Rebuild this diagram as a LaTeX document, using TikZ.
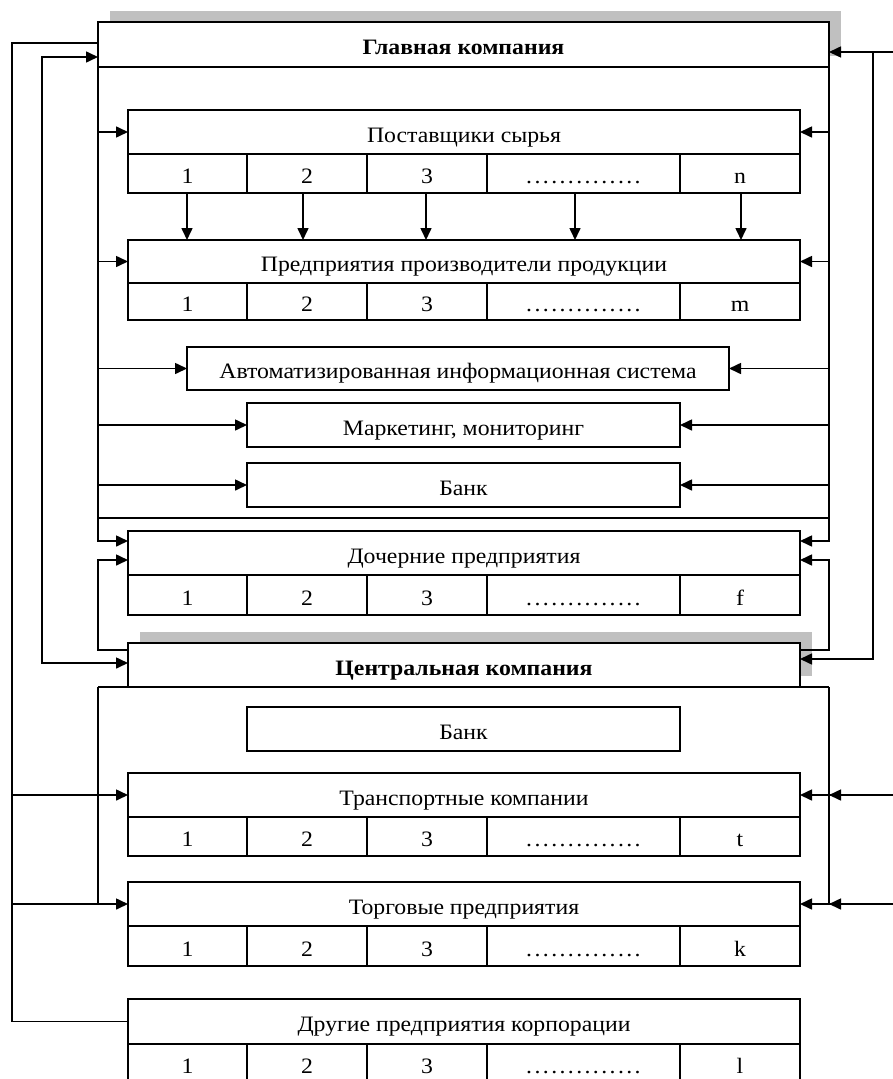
\documentclass[tikz,border=0pt]{standalone}
\usepackage{fontspec}
\setmainfont{Liberation Serif}[FakeStretch=1.08]
\usetikzlibrary{arrows.meta}
\definecolor{shadowgray}{HTML}{C0C0C0}
\newcommand\mydots{\hbox to 117pt{\leaders\hbox to 8.35pt{\hss.\hss}\hfill}}
\newcommand\mycellrow[4]{%
  \node[cellbox, minimum width=119, minimum height=#3] (#1-1) at (128,#2) {1};
  \node[cellbox, minimum width=120, minimum height=#3] (#1-2) at (247,#2) {2};
  \node[cellbox, minimum width=120, minimum height=#3] (#1-3) at (367,#2) {3};
  \node[cellbox, minimum width=193, minimum height=#3] (#1-4) at (487,#2) {\mydots};
  \node[cellbox, minimum width=120, minimum height=#3] (#1-5) at (680,#2) {#4};
}
\begin{document}
\begin{tikzpicture}[x=1pt,y=-1pt, line width=1.6pt,
  hbox/.style={draw, fill=white, inner sep=0pt, outer sep=0pt, anchor=north west,
    text height=20pt, text depth=0pt,
    font=\fontsize{22}{26}\selectfont},
  boldbox/.style={hbox, font=\fontsize{22}{26}\selectfont\bfseries},
  cellbox/.style={hbox},
  arr/.style={-{Triangle[length=12pt,width=11pt]}},
  darr/.style={{Triangle[length=12pt,width=11pt]}-{Triangle[length=12pt,width=11pt]}}]
\useasboundingbox (0,0) rectangle (893,1079);
\fill[white] (0,0) rectangle (893,1079);

% ---------- Главная компания ----------
\fill[shadowgray] (110,11) rectangle (841,56);
\node[boldbox, minimum width=731, minimum height=45] (main) at (98,22) {Главная компания};

\node[hbox, minimum width=672, minimum height=44] (sup) at (128,110) {Поставщики сырья};
\mycellrow{supc}{154}{39}{n}

\node[hbox, minimum width=672, minimum height=43] (prod) at (128,240) {Предприятия производители продукции};
\mycellrow{prodc}{283}{37}{m}

\node[hbox, minimum width=542, minimum height=43] (ais) at (187,347) {Автоматизированная информационная система};
\node[hbox, minimum width=433, minimum height=44] (mark) at (247,403) {Маркетинг, мониторинг};
\node[hbox, minimum width=433, minimum height=44] (bank1) at (247,463) {Банк};

\node[hbox, minimum width=672, minimum height=44] (dau) at (128,531) {Дочерние предприятия};
\mycellrow{dauc}{575}{40}{f}

% ---------- Центральная компания ----------
\fill[shadowgray] (140,632) rectangle (812,676);
\node[boldbox, minimum width=672, minimum height=44] (cen) at (128,643) {Центральная компания};

\node[hbox, minimum width=433, minimum height=44] (bank2) at (247,707) {Банк};

\node[hbox, minimum width=672, minimum height=44] (trans) at (128,773) {Транспортные компании};
\mycellrow{transc}{817}{39}{t}

\node[hbox, minimum width=672, minimum height=44] (trade) at (128,882) {Торговые предприятия};
\mycellrow{tradec}{926}{40}{k}

\node[hbox, minimum width=672, minimum height=45] (other) at (128,999) {Другие предприятия корпорации};
\mycellrow{otherc}{1044}{38}{l}

% ---------- helper coordinates ----------
\coordinate (fb) at (0,518);
\coordinate (dauA) at (128,541);
\coordinate (dauAr) at (800,541);
\coordinate (dauB) at (128,560);
\coordinate (dauBr) at (800,560);
\coordinate (cenA) at (128,650);
\coordinate (cenAr) at (800,650);
\coordinate (mainL) at (98,57);
\coordinate (cenL) at (128,663);
\coordinate (mainR) at (829,52);
\coordinate (cenR) at (800,659);
\coordinate (x42) at (42,0);
\coordinate (x873) at (873,0);
\coordinate (x12) at (12,0);
\coordinate (x893) at (893,0);
\coordinate (oTop) at (98,43);
\coordinate (cfL) at (98,687);
\coordinate (cfR) at (829,687);

% ---------- main frame ----------
\draw[arr] (main.south west) -- (main.west |- dauA) -- (dauA);
\draw[arr] (main.south east) -- (main.east |- dauAr) -- (dauAr);
\draw (main.west |- fb) -- (main.east |- fb);

\foreach \n in {sup,prod,ais,mark,bank1}{
  \draw[arr] (main.west |- \n.west) -- (\n.west);
  \draw[arr] (main.east |- \n.east) -- (\n.east);
}

% supplier -> producer
\draw[arr] (supc-1.south -| 187,0) -- (prod.north -| 187,0);
\draw[arr] (supc-2.south -| 303,0) -- (prod.north -| 303,0);
\draw[arr] (supc-3.south -| 426,0) -- (prod.north -| 426,0);
\draw[arr] (supc-4.south -| 575,0) -- (prod.north -| 575,0);
\draw[arr] (supc-5.south -| 741,0) -- (prod.north -| 741,0);

% central company -> daughters
\draw[arr] (cenA) -- (main.west |- cenA) -- (main.west |- dauB) -- (dauB);
\draw[arr] (cenAr) -- (main.east |- cenAr) -- (main.east |- dauBr) -- (dauBr);

% loops between the two companies
\draw[darr] (mainL) -- (mainL -| x42) -- (cenL -| x42) -- (cenL);
\draw[arr] (mainR -| x893) -- (mainR);
\draw[arr] (mainR -| x873) -- (cenR -| x873) -- (cenR);

% central frame
\draw (cfL) -- (cfR);
\draw (cfL) -- (cfL |- trade.west);
\draw (cfR) -- (cfR |- trade.east);

% outer left line
\draw (oTop) -- (oTop -| x12) -- (other.west -| x12) -- (other.west);
\draw[arr] (trans.west -| x12) -- (trans.west);
\draw[arr] (trade.west -| x12) -- (trade.west);

% right inputs
\draw[arr] (trans.east -| x893) -- (trans.east);
\draw[arr] (trans.east -| x893) -- (trans.east -| cfR);
\draw[arr] (trade.east -| x893) -- (trade.east);
\draw[arr] (trade.east -| x893) -- (trade.east -| cfR);
\end{tikzpicture}
\end{document}
